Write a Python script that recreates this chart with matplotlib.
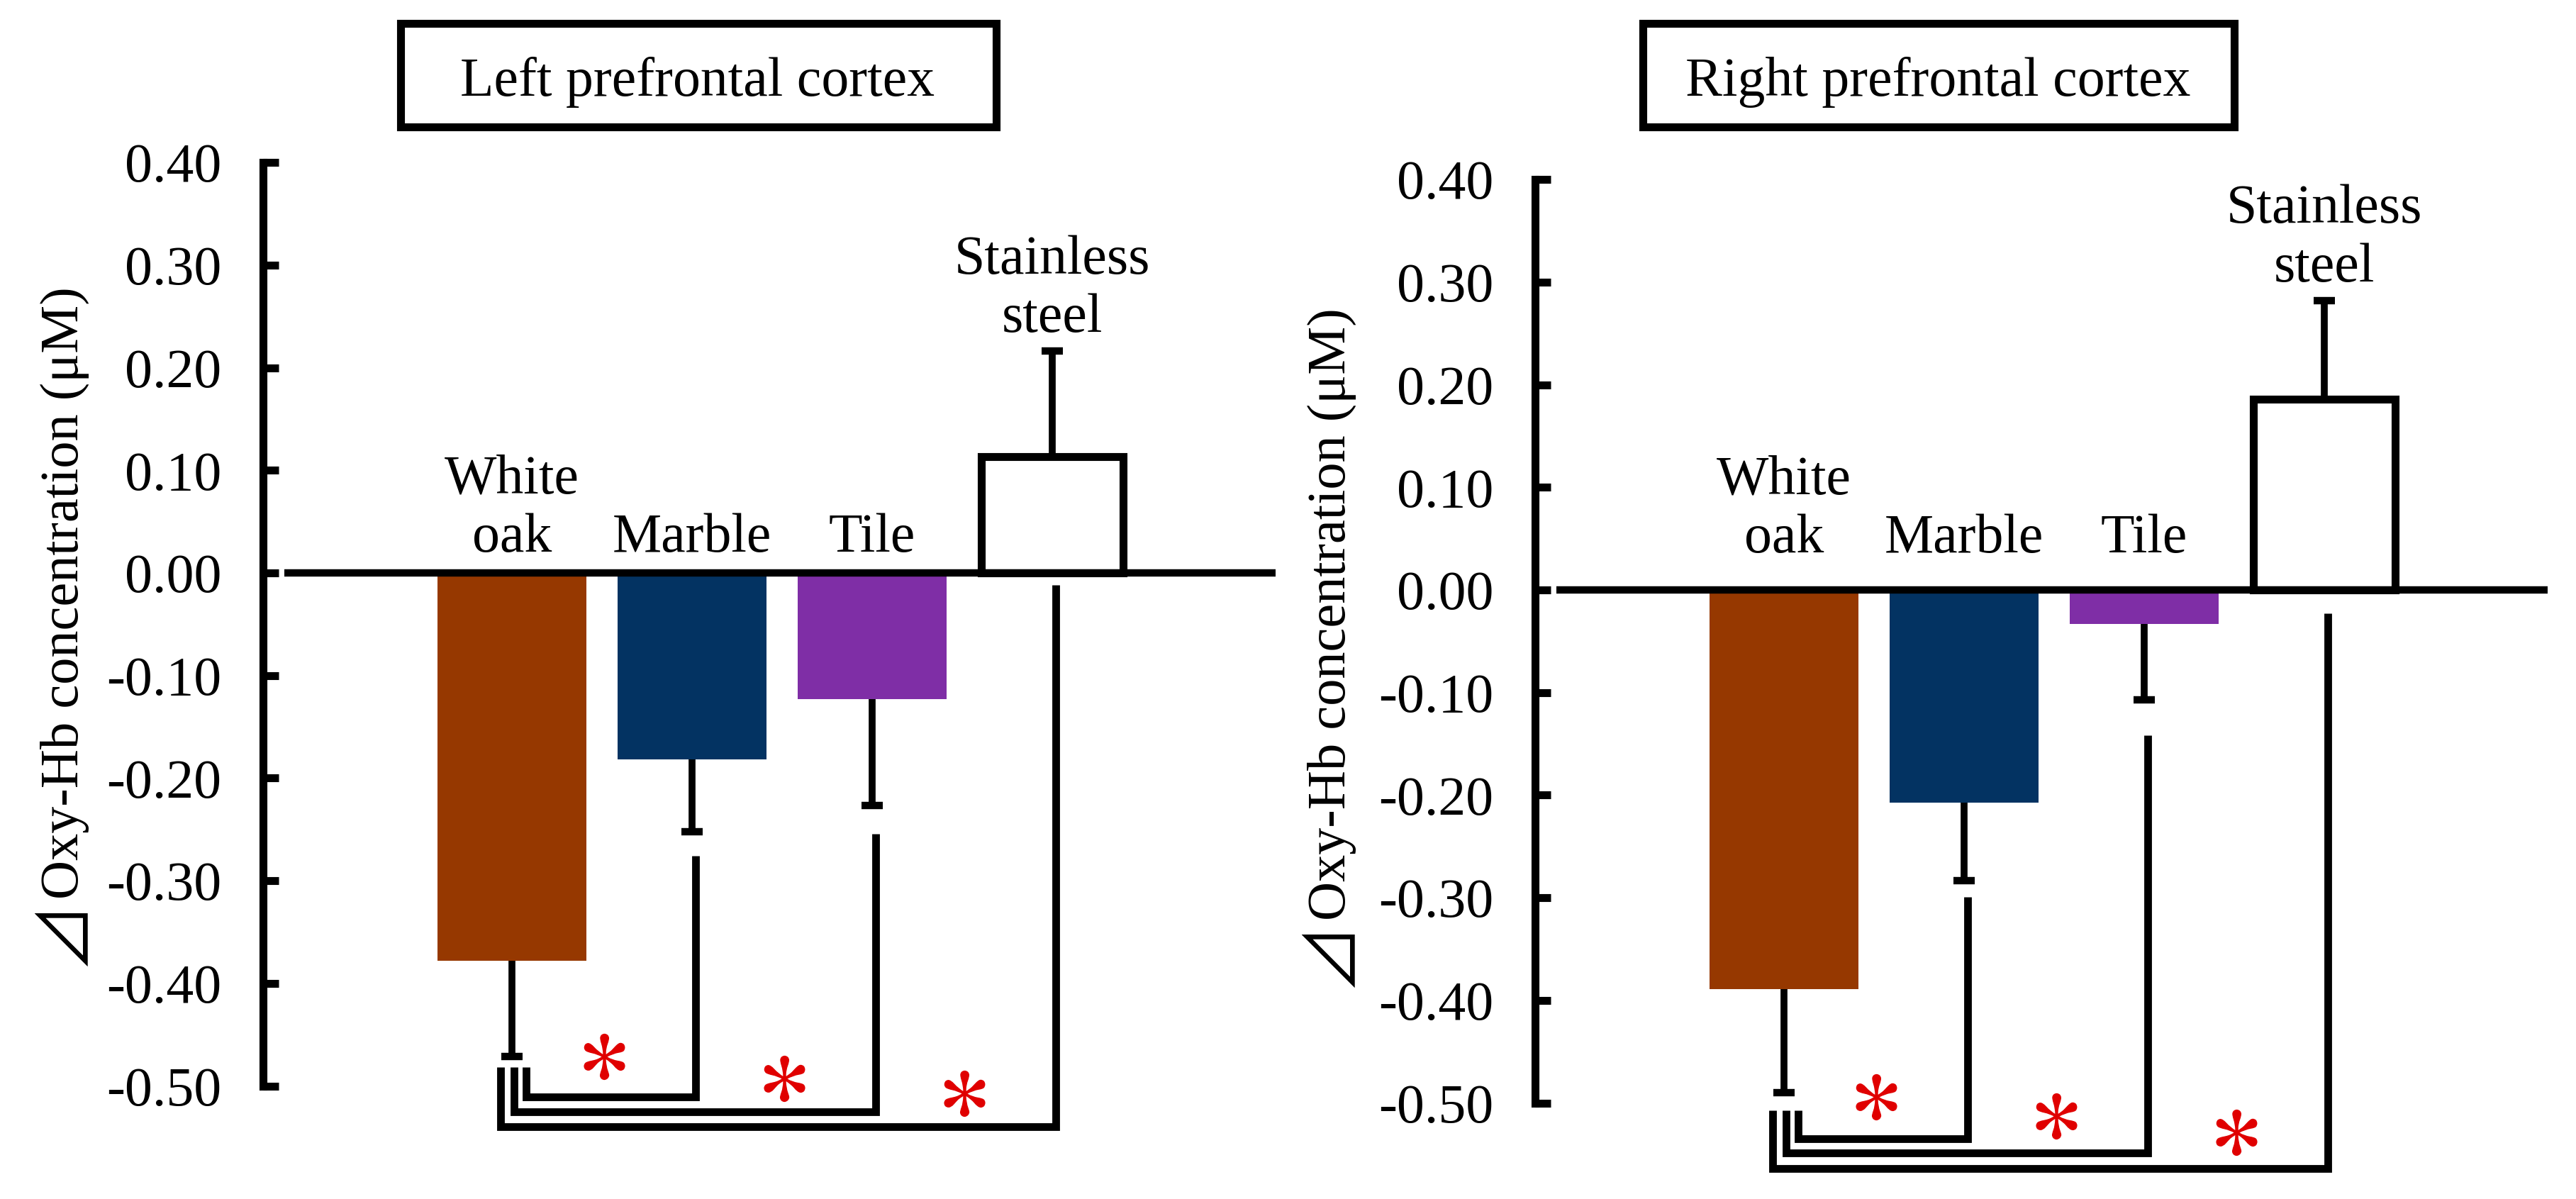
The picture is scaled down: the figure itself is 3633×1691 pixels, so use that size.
import matplotlib
matplotlib.use('Agg')
import matplotlib.pyplot as plt
from matplotlib.patches import Rectangle

plt.rcParams['font.family'] = ['Liberation Serif', 'DejaVu Sans']
plt.rcParams['mathtext.fontset'] = 'stix'

# ---- data ----
categories = ['White\noak', 'Marble', 'Tile', 'Stainless\nsteel']
bar_colors = ['#963800', '#033362', '#7F2EA6', 'white']

left_mean = [-0.378, -0.182, -0.123, 0.113]
left_sd = [0.093, 0.070, 0.104, 0.103]
right_mean = [-0.389, -0.207, -0.033, 0.186]
right_sd = [0.101, 0.076, 0.074, 0.096]

ytick_values = [0.4, 0.3, 0.2, 0.1, 0.0, -0.1, -0.2, -0.3, -0.4, -0.5]
ytick_labels = ['0.40', '0.30', '0.20', '0.10', '0.00',
                '-0.10', '-0.20', '-0.30', '-0.40', '-0.50']

# significance brackets: White oak vs Marble / Tile / Stainless steel
compared = [1, 2, 3]
left_bracket_top = [-0.276, -0.254, -0.012]
left_bracket_level = [-0.511, -0.525, -0.540]
right_bracket_top = [-0.299, -0.142, -0.023]
right_bracket_level = [-0.535, -0.549, -0.564]
left_star_y = [-0.471, -0.493, -0.507]
right_star_y = [-0.494, -0.513, -0.529]

W, H = 3633, 1691
UNIT = 1447.0   # px per data unit (y)
SLOT = 254.0    # px per category (x)


def fx(px):
    return px / W


def fy(py):
    return 1 - py / H


fig = plt.figure(figsize=(W / 100, H / 100), dpi=100)


def panel(spine_px, zero_px, mean, sd, b_top, b_level, leg_top, star_y, label_y):
    x0 = -351 / SLOT
    ax = fig.add_axes([fx(spine_px), fy(zero_px + 0.585 * UNIT), 1430 / W, 1.005 * UNIT / H])
    ax.set_xlim(x0, x0 + 1430 / SLOT)
    ax.set_ylim(-0.585, 0.42)
    for s in ['top', 'right', 'bottom']:
        ax.spines[s].set_visible(False)
    ax.spines['left'].set_linewidth(8)
    ax.spines['left'].set_bounds(-0.5, 0.4)
    ax.spines['left'].set_capstyle('projecting')
    ax.set_xticks([])
    ax.set_yticks(ytick_values)
    ax.set_yticklabels(ytick_labels)
    ax.tick_params(axis='y', direction='in', length=16, width=8, labelsize=56, pad=42)

    for i in range(4):
        if bar_colors[i] == 'white':
            ax.bar(i, mean[i], 0.787, color='white', edgecolor='black', linewidth=8, zorder=2)
        else:
            ax.bar(i, mean[i], 0.827, color=bar_colors[i], linewidth=0, zorder=2)
        end = mean[i] + sd[i] if mean[i] > 0 else mean[i] - sd[i]
        ax.plot([i, i], [mean[i], end], color='black', lw=7, zorder=3, solid_capstyle='butt')
        ax.plot([i - 0.061, i + 0.061], [end, end], color='black', lw=7.5, zorder=3,
                solid_capstyle='butt')
        if mean[i] > 0:
            ly = end + 0.007
        else:
            ly = label_y
        ax.text(i, ly, categories[i], ha='center', va='bottom', fontsize=56, linespacing=1.2)

    ax.plot([-1.264, 4.24], [0, 0], color='black', lw=7.5, zorder=4, solid_capstyle='butt')

    leg_x = [0.079, 0.012, -0.063]
    for j, k in enumerate(compared):
        ax.plot([leg_x[j], leg_x[j], k + 0.02, k + 0.02],
                [leg_top, b_level[j], b_level[j], b_top[j]],
                color='black', lw=7.8, solid_joinstyle='miter', solid_capstyle='butt', zorder=3)
        ax.plot(k - 0.49, star_y[j], marker='$*$', markersize=46, color='#E00000',
                linestyle='none', zorder=5)
    return ax


panel(371, 808, left_mean, left_sd, left_bracket_top, left_bracket_level, -0.482,
      left_star_y, 0.009)
panel(2165, 832, right_mean, right_sd, right_bracket_top, right_bracket_level, -0.507,
      right_star_y, 0.025)

# title boxes
for (x1, x2, cx, title) in [(564.5, 1404.5, 984, 'Left prefrontal cortex'),
                            (2316.5, 3150.5, 2733, 'Right prefrontal cortex')]:
    fig.add_artist(Rectangle((fx(x1), fy(178.5)), (x2 - x1) / W, 145 / H,
                             transform=fig.transFigure, fill=False, lw=8,
                             edgecolor='black', joinstyle='miter'))
    fig.text(fx(cx), fy(135), title, ha='center', va='baseline', fontsize=56)

# y labels: large delta sign followed by the text, both rotated on a common baseline
for (base_x, start_y) in [(110, 1362), (1897, 1392)]:
    fig.text(fx(base_x + 6), fy(start_y), '\u22bf', rotation=90, rotation_mode='anchor',
             ha='left', va='baseline', fontsize=70, family=['Noto Sans CJK JP', 'DejaVu Sans'])
    fig.text(fx(base_x), fy(start_y - 94), 'Oxy-Hb concentration (\u03bcM)', rotation=90,
             rotation_mode='anchor', ha='left', va='baseline', fontsize=55)

fig.savefig('out.png', dpi=100, facecolor='white')
